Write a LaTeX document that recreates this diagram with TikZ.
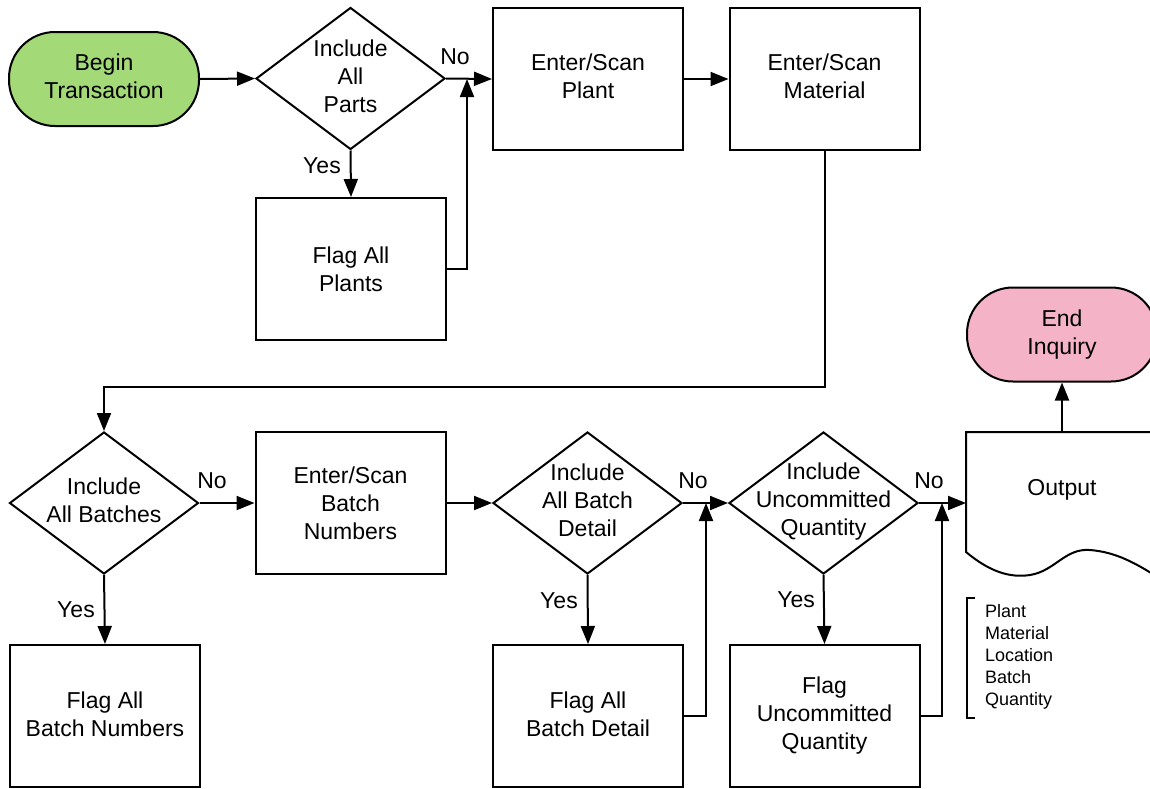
\documentclass[tikz,border=0pt]{standalone}
\usepackage{fontspec}
\setmainfont{Liberation Sans}
\usetikzlibrary{shapes.geometric,arrows.meta}
\definecolor{startgreen}{HTML}{A3D977}
\definecolor{endpink}{HTML}{F4B3C7}
\begin{document}
\begin{tikzpicture}[x=1pt,y=-1pt,
  line width=2pt,
  every node/.style={font=\fontsize{23}{28}\selectfont, align=center},
  box/.style={draw, rectangle, minimum width=190pt, minimum height=142pt, inner sep=0pt},
  term/.style={draw, rectangle, rounded corners=46pt, minimum width=190pt, minimum height=94pt, inner sep=0pt},
  dia/.style={draw, diamond, minimum width=189pt, minimum height=142pt, inner sep=0pt},
  arr/.style={-{Triangle[length=18pt,width=14pt]}},
  lab/.style={inner sep=0pt},
  small/.style={font=\fontsize{18}{22}\selectfont, align=left, inner sep=0pt}
]
\useasboundingbox (0,0) rectangle (1150,788);
\clip (0,0) rectangle (1150,788);

% top row
\node[term, fill=startgreen] (begin) at (104,79) {};
\node at (104,76) {Begin\\Transaction};
\node[dia] (d1) at (350.5,78.5) {};
\node at (350.5,76) {Include\\All\\Parts};
\node[box] (plants) at (351,269) {Flag All\\Plants};
\node[box] (plant) at (588,79) {};
\node at (588,76) {Enter/Scan\\Plant};
\node[box] (material) at (824.5,79) {};
\node at (824.5,76) {Enter/Scan\\Material};
\coordinate (j1) at (467,79);

% bottom row
\node[dia] (d2) at (104,503) {};
\node at (104,500) {Include\\All Batches};
\node[box] (batchnum) at (350.5,503) {Enter/Scan\\Batch\\Numbers};
\node[box] (flagbn) at (105,716) {};
\node at (105,714) {Flag All\\Batch Numbers};
\node[dia] (d3) at (587.5,503) {};
\node at (587.5,500) {Include\\All Batch\\Detail};
\node[box] (flagbd) at (588,716) {};
\node at (588,714) {Flag All\\Batch Detail};
\coordinate (j3) at (706,503);
\node[dia] (d4) at (823.5,503) {};
\node at (823.5,502) {Include\\Uncommitted\\Quantity};
\node[box] (flaguq) at (824.5,716) {Flag\\Uncommitted\\Quantity};
\coordinate (j4) at (942,503);

% output document shape
\draw (1165,432) -- (966,432) -- (966,552)
  .. controls (990,572) and (1010,578) .. (1030,575)
  .. controls (1055,571) and (1065,548) .. (1090,550)
  .. controls (1115,552) and (1135,562) .. (1165,582);
\node (output) at (1062,490) {Output};
\coordinate (outleft) at (966,503);
\coordinate (outtop) at (1062,432);
\node[term, fill=endpink] (end) at (1062,334.5) {End\\Inquiry};

% bracket annotation
\draw[line width=1.8pt] (975,598) -- (967,598) -- (967,718) -- (975,718);
\node[small, anchor=west] (notes) at (984,657) {Plant\\Material\\Location\\Batch\\Quantity};

% connectors
\draw[arr] (begin.east) -- (d1.west);
\draw[arr] (d1.east) -- (plant.west);
\node[lab] at (455,57) {No};
\draw[arr] (d1.south) -- (plants.north);
\node[lab] at (322,166) {Yes};
\draw[arr] (plants.east) -| (j1);
\draw[arr] (plant.east) -- (material.west);
\draw[arr] (material.south) -- (824.5,387) -| (d2.north);
\draw[arr] (d2.east) -- (batchnum.west);
\node[lab] at (212,481) {No};
\draw[arr] (d2.south) -- (flagbn.north);
\node[lab] at (76,610) {Yes};
\draw[arr] (batchnum.east) -- (d3.west);
\draw[arr] (d3.east) -- (d4.west);
\node[lab] at (693,481) {No};
\draw[arr] (d3.south) -- (flagbd.north);
\node[lab] at (559,601) {Yes};
\draw[arr] (flagbd.east) -| (j3);
\draw[arr] (d4.east) -- (outleft);
\node[lab] at (929,481) {No};
\draw[arr] (d4.south) -- (flaguq.north);
\node[lab] at (796,600) {Yes};
\draw[arr] (flaguq.east) -| (j4);
\draw[arr] (outtop) -- (end.south);
\end{tikzpicture}
\end{document}
